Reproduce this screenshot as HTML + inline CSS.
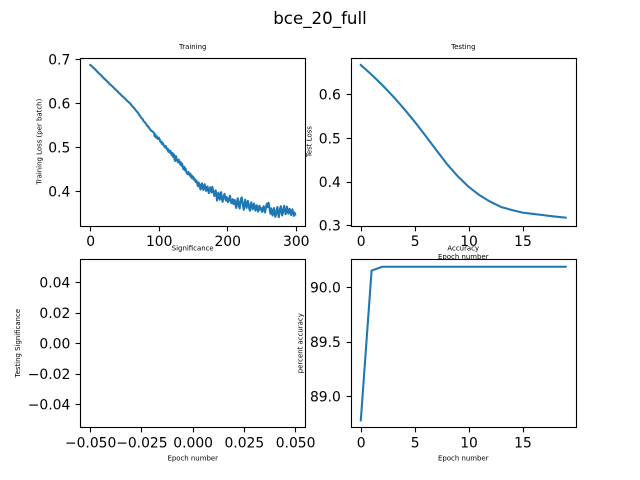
<!DOCTYPE html>
<html>
<head>
<meta charset="utf-8">
<title>bce_20_full</title>
<style>
html,body{margin:0;padding:0;background:#fff;width:640px;height:480px;overflow:hidden}
svg{display:block}
text{font-family:"DejaVu Sans","Liberation Sans",sans-serif;fill:#000}
.tick{font-size:13.89px}
.small{font-size:6.94px}
</style>
</head>
<body>
<svg id="fig" xmlns="http://www.w3.org/2000/svg" width="640" height="480" viewBox="0 0 640 480">
<rect x="0" y="0" width="640" height="480" fill="#fff"/>
<text x="320" y="24" text-anchor="middle" style="font-size:16.67px">bce_20_full</text>
</svg>
<script>
const trainingLoss = [
.687,.686,.685,.683,.682,.680,.679,.677,.676,.674,
.672,.671,.669,.668,.666,.665,.663,.662,.660,.658,
.657,.655,.654,.652,.651,.649,.648,.646,.644,.643,
.642,.640,.639,.637,.636,.634,.633,.631,.630,.628,
.627,.625,.623,.622,.621,.619,.617,.616,.615,.613,
.612,.610,.609,.607,.605,.604,.603,.601,.600,.598,
.596,.594,.592,.591,.589,.587,.585,.583,.581,.580,
.578,.575,.572,.571,.568,.566,.565,.562,.559,.558,
.556,.554,.552,.549,.548,.546,.544,.541,.540,.537,
.537,.536,.534,.533,.525,.529,.522,.525,.520,.519,
.522,.519,.514,.511,.513,.507,.509,.505,.503,.500,
.503,.499,.495,.497,.490,.493,.488,.492,.486,.482,
.487,.478,.484,.472,.469,.480,.474,.470,.466,.472,
.468,.462,.466,.458,.463,.455,.450,.456,.448,.452,
.445,.441,.439,.444,.441,.436,.440,.432,.436,.429,
.433,.430,.425,.427,.421,.424,.418,.412,.420,.417,
.408,.404,.415,.418,.409,.403,.412,.416,.407,.401,
.406,.411,.402,.396,.405,.409,.403,.397,.410,.404,
.399,.389,.394,.402,.392,.379,.386,.397,.391,.381,
.393,.398,.385,.376,.383,.390,.394,.384,.379,.387,
.382,.375,.379,.386,.390,.378,.373,.377,.382,.371,
.376,.380,.368,.362,.371,.384,.377,.366,.361,.374,
.383,.386,.375,.365,.358,.370,.381,.373,.362,.369,
.378,.372,.360,.356,.366,.375,.368,.359,.364,.372,
.365,.356,.361,.368,.359,.354,.363,.367,.358,.362,
.357,.353,.362,.366,.358,.352,.360,.369,.372,.364,
.374,.368,.356,.349,.361,.352,.345,.355,.362,.350,
.342,.347,.358,.364,.352,.341,.349,.361,.366,.355,
.345,.351,.362,.367,.356,.348,.354,.365,.358,.349,
.353,.360,.352,.346,.355,.359,.350,.344,.352,.347
];
const testLoss = [.667,.645,.621,.595,.567,.537,.505,.472,.440,.412,.388,.369,.354,.342,.335,.329,.326,.323,.320,.3175];
const significance = [];
const accuracy = [88.78,90.15,90.185,90.185,90.185,90.185,90.185,90.185,90.185,90.185,90.185,90.185,90.185,90.185,90.185,90.185,90.185,90.185,90.185,90.185];

const trainingXTicks = [0,100,200,300];
const trainingYTicks = [0.4,0.5,0.6,0.7];
const trainingYLabels = ["0.4","0.5","0.6","0.7"];
const epochXTicks = [0,5,10,15];
const testYTicks = [0.3,0.4,0.5,0.6];
const testYLabels = ["0.3","0.4","0.5","0.6"];
const sigXTicks = [-0.05,-0.025,0,0.025,0.05];
const sigXLabels = ["\u22120.050","\u22120.025","0.000","0.025","0.050"];
const sigYTicks = [-0.04,-0.02,0,0.02,0.04];
const sigYLabels = ["\u22120.04","\u22120.02","0.00","0.02","0.04"];
const accYTicks = [89,89.5,90];
const accYLabels = ["89.0","89.5","90.0"];

const NS = "http://www.w3.org/2000/svg";
const fig = document.getElementById("fig");

function make(parent, tag, attrs, name) {
  const el = document.createElementNS(NS, tag);
  for (const k in attrs) el.setAttribute(k, attrs[k]);
  
  
  parent.appendChild(el);
  return el;
}
function label(parent, x, y, str, cls, anchor, name, rot) {
  const attrs = {x: x, y: y, class: cls, "text-anchor": anchor};
  if (rot) attrs.transform = "rotate(-90 " + x + " " + y + ")";
  const t = make(parent, "text", attrs, name);
  t.textContent = str;
  return t;
}
function snap(v) { return Math.round(v) + 0.5; }

function panel(o) {
  const g = make(fig, "g", {}, o.name);
  const L = o.box[0], T = o.box[1], R = o.box[2], B = o.box[3];
  const xs = v => L + (v - o.xlim[0]) / (o.xlim[1] - o.xlim[0]) * (R - L);
  const ys = v => B - (v - o.ylim[0]) / (o.ylim[1] - o.ylim[0]) * (B - T);
  make(g, "rect", {x: L, y: T, width: R - L, height: B - T, fill: "#fff"}, o.name + "-background");
  if (o.values.length) {
    const pts = o.values.map((v, i) => xs(i).toFixed(2) + "," + ys(v).toFixed(2)).join(" ");
    make(g, "polyline", {points: pts, fill: "none", stroke: "#1f77b4", "stroke-width": 2.08, "stroke-linejoin": "round", "stroke-linecap": "square"}, o.name + "-line");
  }
  make(g, "rect", {x: snap(L), y: snap(T), width: snap(R) - snap(L), height: snap(B) - snap(T), fill: "none", stroke: "#000", "stroke-width": 1.11}, o.name + "-frame");
  o.xticks.forEach((v, i) => {
    const x = snap(xs(v));
    make(g, "line", {x1: x, x2: x, y1: snap(B), y2: snap(B) + 4.86, stroke: "#000", "stroke-width": 1.11}, o.name + "-x-tick");
    label(g, xs(v) + 0.4, B + 20.3, o.xlabels[i], "tick", "middle", o.name + "-x-tick-label");
  });
  o.yticks.forEach((v, i) => {
    const y = snap(ys(v));
    make(g, "line", {x1: snap(L) - 4.86, x2: snap(L), y1: y, y2: y, stroke: "#000", "stroke-width": 1.11}, o.name + "-y-tick");
    label(g, L - 9.7, ys(v) + 5.3, o.ylabels[i], "tick", "end", o.name + "-y-tick-label");
  });
  label(g, (L + R) / 2, T - 8.6, o.title, "small", "middle", o.name + "-title");
  label(g, o.ylabelX, (T + B) / 2, o.ylabel, "small", "middle", o.name + "-y-axis-title", true);
  if (o.xlabel) label(g, (L + R) / 2, B + 33.5, o.xlabel, "small", "middle", o.name + "-x-axis-title");
}

panel({
  name: "training-panel", box: [80, 57.6, 305.45, 225.6],
  xlim: [-14.95, 313.95], ylim: [0.3220, 0.7039],
  values: trainingLoss,
  xticks: trainingXTicks, xlabels: trainingXTicks.map(String),
  yticks: trainingYTicks, ylabels: trainingYLabels,
  title: "Training", ylabel: "Training Loss (per batch)", ylabelX: 41.5, xlabel: ""
});
panel({
  name: "testing-panel", box: [350.55, 57.6, 576, 225.6],
  xlim: [-0.95, 19.95], ylim: [0.2993, 0.684],
  values: testLoss,
  xticks: epochXTicks, xlabels: epochXTicks.map(String),
  yticks: testYTicks, ylabels: testYLabels,
  title: "Testing", ylabel: "Test Loss", ylabelX: 311.5, xlabel: "Epoch number"
});
panel({
  name: "significance-panel", box: [80, 259.2, 305.45, 427.2],
  xlim: [-0.055, 0.055], ylim: [-0.055, 0.055],
  values: significance,
  xticks: sigXTicks, xlabels: sigXLabels,
  yticks: sigYTicks, ylabels: sigYLabels,
  title: "Significance", ylabel: "Testing Significance", ylabelX: 20, xlabel: "Epoch number"
});
panel({
  name: "accuracy-panel", box: [350.55, 259.2, 576, 427.2],
  xlim: [-0.95, 19.95], ylim: [88.718, 90.254],
  values: accuracy,
  xticks: epochXTicks, xlabels: epochXTicks.map(String),
  yticks: accYTicks, ylabels: accYLabels,
  title: "Accuracy", ylabel: "percent accuracy", ylabelX: 302.5, xlabel: "Epoch number"
});
</script>
</body>
</html>
